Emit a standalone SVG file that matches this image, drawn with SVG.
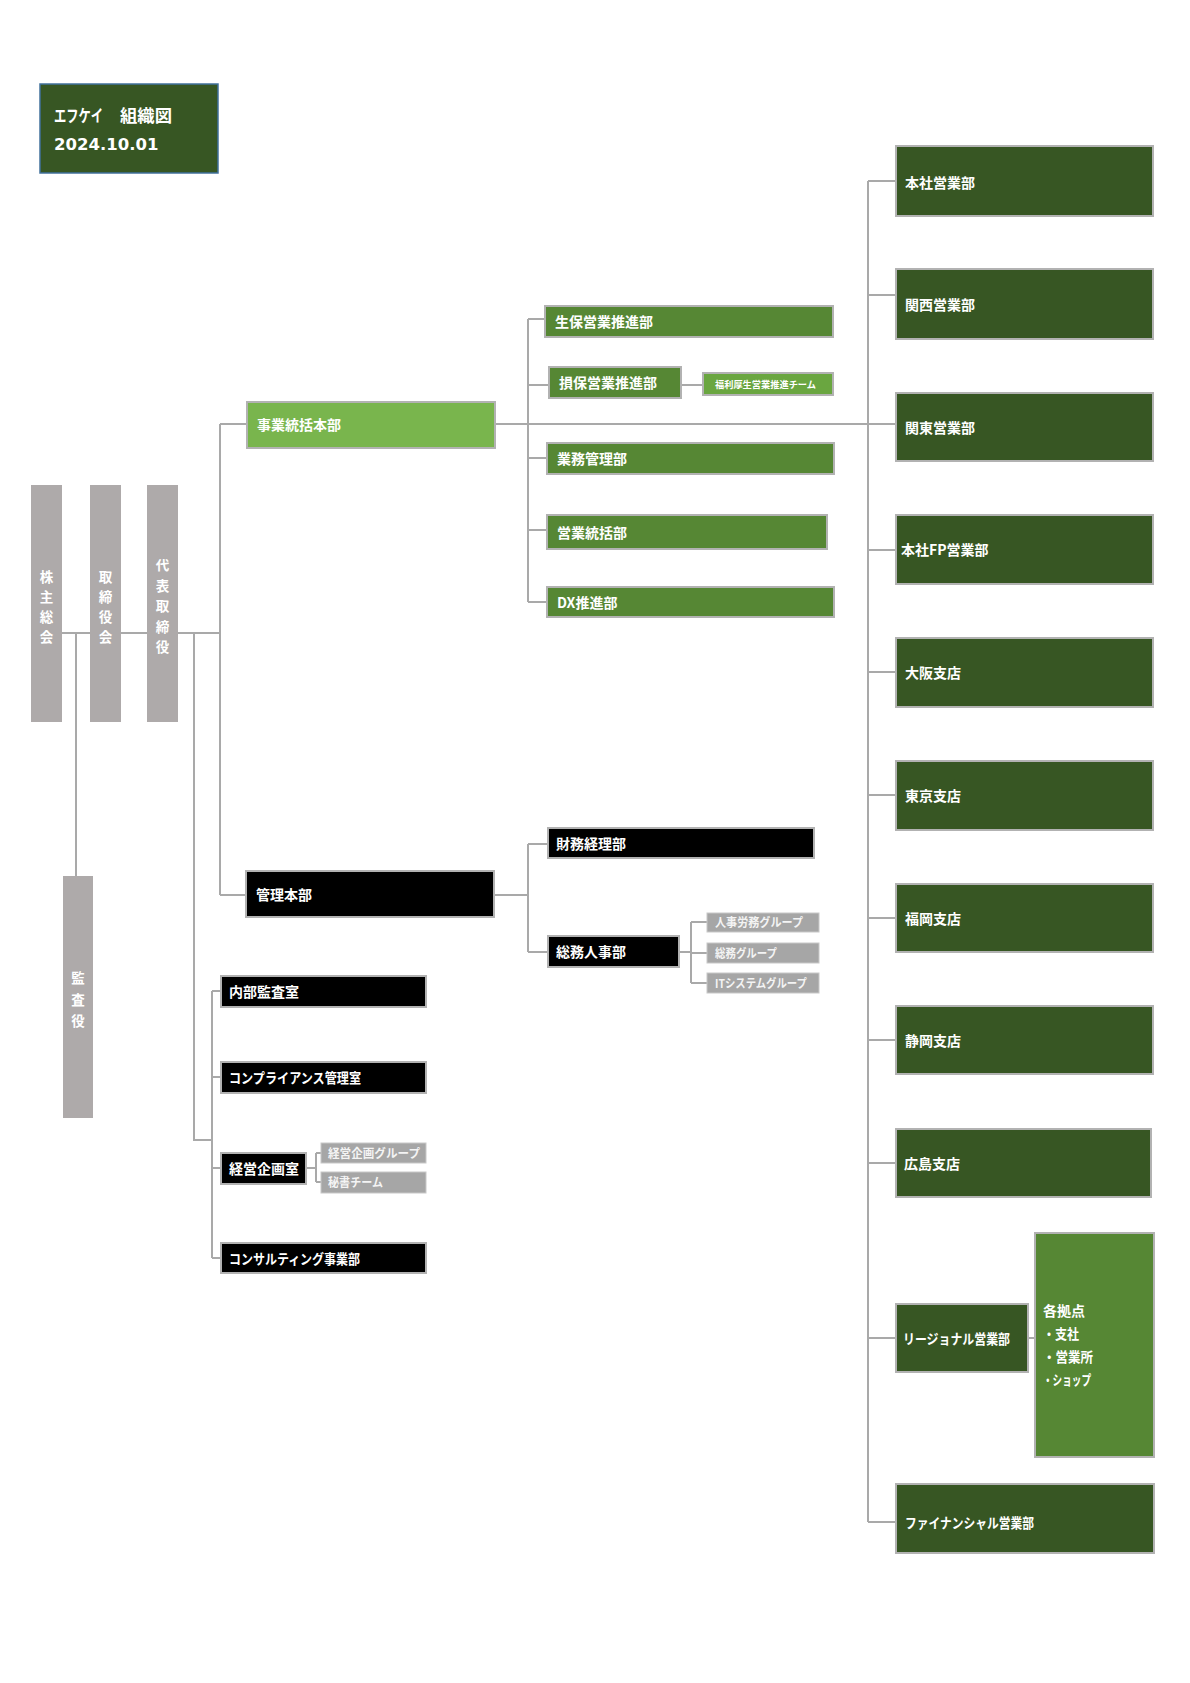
<svg xmlns="http://www.w3.org/2000/svg" width="1190" height="1683" viewBox="0 0 1190 1683">
<style>
.ln{stroke:#a9a9a9;stroke-width:2;fill:none}
.bx{stroke:#b2b2b2;stroke-width:2}
.dg{fill:#375623}
.mg{fill:#568734}
.lg{fill:#6aa640}
.hg{fill:#79b54d}
.bk{fill:#000}
.gy{fill:#aeaaaa}
.sg{fill:#a6a6a6;stroke:#c8c8c8;stroke-width:1}
text{font-family:"Noto Sans CJK JP","Noto Sans",sans-serif;font-weight:bold;fill:#fff;font-size:14px}
.vt{font-size:13.5px;text-anchor:middle}
.sm{font-size:12px;fill:#f4f4f4}
.tt{font-size:17px}
.xs{font-size:9.5px}
</style>
<rect width="1190" height="1683" fill="#fff"/>

<g id="connectors">
<path class="ln" d="M62,633H90 M121,633H147 M178,633H220 M220,424V895 M220,424H246 M220,895H246"/>
<path class="ln" d="M76,633V876"/>
<path class="ln" d="M194,633V1140H212 M212,991V1258 M212,991H221 M212,1077H221 M212,1168H221 M212,1258H221"/>
<path class="ln" d="M306,1168H316 M316,1153V1182 M316,1153H321 M316,1182H321"/>
<path class="ln" d="M496,424H896 M528,319V602 M528,319H544 M528,385H549 M528,458H547 M528,530H547 M528,602H547"/>
<path class="ln" d="M681,385H703"/>
<path class="ln" d="M494,895H528 M528,844V952 M528,844H548 M528,952H548"/>
<path class="ln" d="M679,952H691 M691,922V983 M691,922H707 M691,953H707 M691,983H707"/>
<path class="ln" d="M868,181V1522 M868,181H896 M868,295H896 M868,550H896 M868,672H896 M868,795H896 M868,918H896 M868,1040H896 M868,1163H896 M868,1338H896 M868,1522H896"/>
<path class="ln" d="M1028,1338H1035"/>
</g>

<g id="title">
<rect x="40" y="84" width="178" height="89" fill="#375623" stroke="#41719c" stroke-width="1.5"/>
<text class="tt" x="54" y="122"><tspan textLength="49" lengthAdjust="spacingAndGlyphs">エフケイ</tspan><tspan x="120" textLength="52" lengthAdjust="spacingAndGlyphs">組織図</tspan></text>
<text class="tt" x="54" y="150" style="font-family:'DejaVu Sans',sans-serif;font-size:16.5px">2024.10.01</text>
</g>

<g id="kabunushi">
<rect class="gy" x="31" y="485" width="31" height="237"/>
<text class="vt" x="46.5" y="582">株</text><text class="vt" x="46.5" y="602">主</text><text class="vt" x="46.5" y="622">総</text><text class="vt" x="46.5" y="642">会</text>
</g>
<g id="torishimariyakukai">
<rect class="gy" x="90" y="485" width="31" height="237"/>
<text class="vt" x="105.5" y="582">取</text><text class="vt" x="105.5" y="602">締</text><text class="vt" x="105.5" y="622">役</text><text class="vt" x="105.5" y="642">会</text>
</g>
<g id="daihyo">
<rect class="gy" x="147" y="485" width="31" height="237"/>
<text class="vt" x="162.5" y="570">代</text><text class="vt" x="162.5" y="591">表</text><text class="vt" x="162.5" y="611">取</text><text class="vt" x="162.5" y="632">締</text><text class="vt" x="162.5" y="652">役</text>
</g>
<g id="kansayaku">
<rect class="gy" x="63" y="876" width="30" height="242"/>
<text class="vt" x="78" y="983">監</text><text class="vt" x="78" y="1005">査</text><text class="vt" x="78" y="1026">役</text>
</g>

<g id="jigyo-tokatsu">
<rect class="bx hg" x="247" y="402" width="248" height="46"/>
<text x="257" y="430">事業統括本部</text>
</g>
<g id="seiho">
<rect class="bx mg" x="545" y="306" width="288" height="31"/>
<text x="555" y="327">生保営業推進部</text>
</g>
<g id="sonpo">
<rect class="bx mg" x="549" y="367" width="132" height="31"/>
<text x="559" y="388">損保営業推進部</text>
</g>
<g id="fukuri">
<rect class="bx lg" x="703" y="373" width="130" height="22"/>
<text class="xs" x="715" y="387.5" textLength="101" lengthAdjust="spacingAndGlyphs">福利厚生営業推進チーム</text>
</g>
<g id="gyomu-kanri">
<rect class="bx mg" x="547" y="443" width="287" height="31"/>
<text x="557" y="464">業務管理部</text>
</g>
<g id="eigyo-tokatsu">
<rect class="bx mg" x="547" y="515" width="280" height="34"/>
<text x="557" y="537.5">営業統括部</text>
</g>
<g id="dx">
<rect class="bx mg" x="547" y="587" width="287" height="30"/>
<text x="557" y="607.5">DX推進部</text>
</g>

<g id="kanri-honbu">
<rect class="bx bk" x="246" y="871" width="248" height="46"/>
<text x="256" y="899.5">管理本部</text>
</g>
<g id="zaimu">
<rect class="bx bk" x="548" y="828" width="266" height="30"/>
<text x="556" y="848.5">財務経理部</text>
</g>
<g id="somu-jinji">
<rect class="bx bk" x="548" y="936" width="131" height="31"/>
<text x="556" y="957">総務人事部</text>
</g>
<g id="jinji-romu">
<rect class="sg" x="707" y="913" width="112" height="19"/>
<text class="sm" x="715" y="927" textLength="88" lengthAdjust="spacingAndGlyphs">人事労務グループ</text>
</g>
<g id="somu-group">
<rect class="sg" x="707" y="943" width="112" height="20"/>
<text class="sm" x="715" y="957.5" textLength="62" lengthAdjust="spacingAndGlyphs">総務グループ</text>
</g>
<g id="it-group">
<rect class="sg" x="707" y="973" width="112" height="20"/>
<text class="sm" x="715" y="987.5" textLength="92" lengthAdjust="spacingAndGlyphs">ITシステムグループ</text>
</g>

<g id="naibu-kansa">
<rect class="bx bk" x="221" y="976" width="205" height="31"/>
<text x="229" y="997">内部監査室</text>
</g>
<g id="compliance">
<rect class="bx bk" x="221" y="1062" width="205" height="31"/>
<text x="229" y="1083" textLength="132" lengthAdjust="spacingAndGlyphs">コンプライアンス管理室</text>
</g>
<g id="keiei-kikaku">
<rect class="bx bk" x="221" y="1153" width="85" height="31"/>
<text x="229" y="1174">経営企画室</text>
</g>
<g id="keiei-group">
<rect class="sg" x="321" y="1143" width="105" height="20"/>
<text class="sm" x="328" y="1157.5" textLength="92" lengthAdjust="spacingAndGlyphs">経営企画グループ</text>
</g>
<g id="hisho">
<rect class="sg" x="321" y="1172" width="105" height="21"/>
<text class="sm" x="328" y="1187" textLength="55" lengthAdjust="spacingAndGlyphs">秘書チーム</text>
</g>
<g id="consulting">
<rect class="bx bk" x="221" y="1243" width="205" height="30"/>
<text x="229" y="1263.5" textLength="131" lengthAdjust="spacingAndGlyphs">コンサルティング事業部</text>
</g>

<g id="honsha-eigyo">
<rect class="bx dg" x="896" y="146" width="257" height="70"/>
<text x="905" y="188">本社営業部</text>
</g>
<g id="kansai">
<rect class="bx dg" x="896" y="269" width="257" height="70"/>
<text x="905" y="310">関西営業部</text>
</g>
<g id="kanto">
<rect class="bx dg" x="896" y="393" width="257" height="68"/>
<text x="905" y="433">関東営業部</text>
</g>
<g id="honsha-fp">
<rect class="bx dg" x="896" y="515" width="257" height="69"/>
<text x="901" y="555">本社FP営業部</text>
</g>
<g id="osaka">
<rect class="bx dg" x="896" y="638" width="257" height="69"/>
<text x="905" y="678">大阪支店</text>
</g>
<g id="tokyo">
<rect class="bx dg" x="896" y="761" width="257" height="69"/>
<text x="905" y="801">東京支店</text>
</g>
<g id="fukuoka">
<rect class="bx dg" x="896" y="884" width="257" height="68"/>
<text x="905" y="923.5">福岡支店</text>
</g>
<g id="shizuoka">
<rect class="bx dg" x="896" y="1006" width="257" height="68"/>
<text x="905" y="1045.5">静岡支店</text>
</g>
<g id="hiroshima">
<rect class="bx dg" x="896" y="1129" width="255" height="68"/>
<text x="904" y="1168.5">広島支店</text>
</g>
<g id="regional">
<rect class="bx dg" x="896" y="1304" width="132" height="68"/>
<text x="903" y="1343.5" textLength="107" lengthAdjust="spacingAndGlyphs">リージョナル営業部</text>
</g>
<g id="kyoten">
<rect class="bx mg" x="1035" y="1233" width="119" height="224"/>
<text x="1043" y="1316">各拠点</text>
<text x="1043" y="1339" textLength="36" lengthAdjust="spacingAndGlyphs">・支社</text>
<text x="1043" y="1362" textLength="50" lengthAdjust="spacingAndGlyphs">・営業所</text>
<text x="1043" y="1385" textLength="48" lengthAdjust="spacingAndGlyphs">・ショップ</text>
</g>
<g id="financial">
<rect class="bx dg" x="896" y="1484" width="258" height="69"/>
<text x="905" y="1527.5" textLength="129" lengthAdjust="spacingAndGlyphs">ファイナンシャル営業部</text>
</g>
</svg>
